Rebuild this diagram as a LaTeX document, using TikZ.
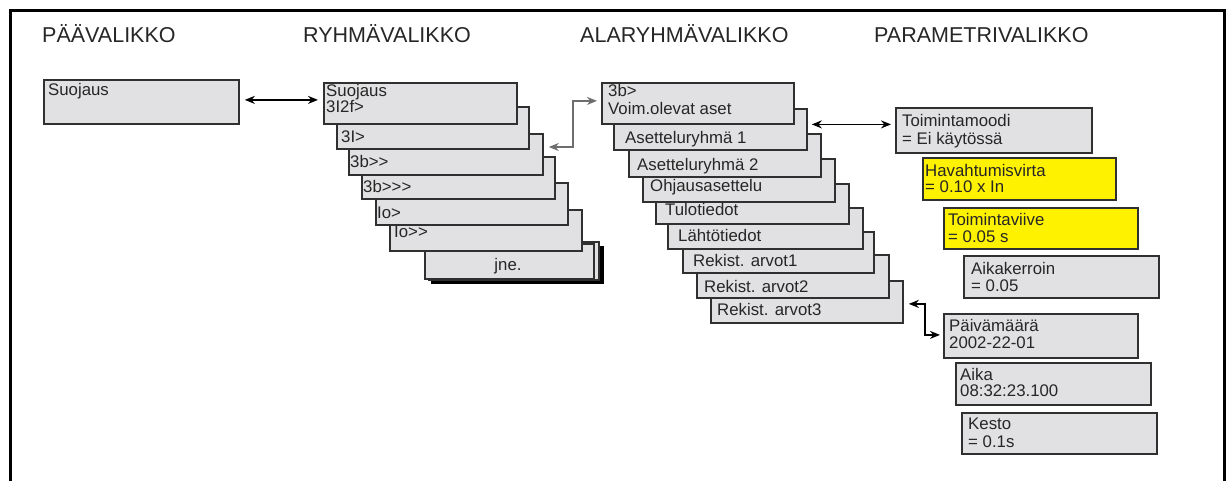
\documentclass[tikz,border=0pt]{standalone}
\usepackage{fontspec}
\setmainfont{Liberation Sans}
\usetikzlibrary{arrows.meta,calc}
\definecolor{boxfill}{HTML}{E1E1E3}
\definecolor{boxline}{HTML}{303030}
\definecolor{hiyellow}{HTML}{FFF200}
\definecolor{txtcol}{HTML}{262626}
\definecolor{linkgray}{HTML}{6E6E6E}
\tikzset{
  box/.style={draw=boxline, fill=boxfill, line width=1.8pt, rectangle, inner sep=0pt, anchor=north west},
  ybox/.style={box, fill=hiyellow},
  txt/.style={anchor=base west, inner sep=0pt, font=\fontsize{16.8}{17}\selectfont, text=txtcol},
  head/.style={anchor=base west, inner sep=0pt, font=\fontsize{21.5}{22}\selectfont, text=txtcol},
  dbl/.style={{Stealth[length=10pt,width=8pt]}-{Stealth[length=10pt,width=8pt]}, line width=1.6pt},
  frameline/.style={line width=3pt, draw=black}
}
\begin{document}
\begin{tikzpicture}[x=1pt,y=-1pt]
\useasboundingbox (0,0) rectangle (1232,481);
% outer frame (open at the bottom)
\draw[frameline] (10,481) -- (10,11) -- (1224,11) -- (1224,481);

% headers
\node[head] (h1) at (42,43) {PÄÄVALIKKO};
\node[head] (h2) at (303,43) {RYHMÄVALIKKO};
\node[head] (h3) at (580,43) {ALARYHMÄVALIKKO};
\node[head] (h4) at (874,43) {PARAMETRIVALIKKO};

% main menu
\node[box, minimum width=195pt, minimum height=44pt] (m) at (43,79) {};
\node[txt] (mt) at (48,96) {Suojaus};

% group menu stack (back to front)
\node[box, fill=black, draw=black, minimum width=171pt, minimum height=36pt] (g7c) at (431,246) {};
\node[box, minimum width=170pt, minimum height=38pt] (g7b) at (428,241) {};
\node[box, minimum width=169pt, minimum height=35pt] (g7) at (424,243) {};
\node[txt, anchor=base] (g7t) at (508,270) {jne.};
\node[box, minimum width=192pt, minimum height=41pt] (g6) at (389,209) {};
\node[txt] (g6t) at (394,238) {Io>{}>};
\node[box, minimum width=192pt, minimum height=42pt] (g5) at (375,182) {};
\node[txt] (g5t) at (377,219) {Io>};
\node[box, minimum width=193pt, minimum height=42pt] (g4) at (361,156) {};
\node[txt] (g4t) at (363,193) {3b>{}>{}>};
\node[box, minimum width=194pt, minimum height=41pt] (g3) at (348,133) {};
\node[txt] (g3t) at (350,168) {3b>{}>};
\node[box, minimum width=192pt, minimum height=42pt] (g2) at (336,106) {};
\node[txt] (g2t) at (341,143) {3I>};
\node[box, minimum width=193pt, minimum height=41pt] (g1) at (323,82) {};
\node[txt] (g1a) at (326,97) {Suojaus};
\node[txt] (g1b) at (326,113) {3I2f>};

% subgroup menu stack (back to front)
\node[box, minimum width=192pt, minimum height=42pt] (s9) at (710,280) {};
\node[txt] (s9t) at (717,316) {Rekist. arvot3};
\node[box, minimum width=192pt, minimum height=43pt] (s8) at (696,254) {};
\node[txt] (s8t) at (704,292) {Rekist. arvot2};
\node[box, minimum width=191pt, minimum height=41pt] (s7) at (682,231) {};
\node[txt] (s7t) at (693,267) {Rekist. arvot1};
\node[box, minimum width=195pt, minimum height=41pt] (s6) at (667,207) {};
\node[txt] (s6t) at (678,242) {Lähtötiedot};
\node[box, minimum width=193pt, minimum height=40pt] (s5) at (655,183) {};
\node[txt] (s5t) at (665,216) {Tulotiedot};
\node[box, minimum width=192pt, minimum height=43pt] (s4) at (642,158) {};
\node[txt] (s4t) at (650,192) {Ohjausasettelu};
\node[box, minimum width=192pt, minimum height=43pt] (s3) at (628,133) {};
\node[txt] (s3t) at (637,171) {Asetteluryhmä 2};
\node[box, minimum width=193pt, minimum height=41pt] (s2) at (613,108) {};
\node[txt] (s2t) at (625,144) {Asetteluryhmä 1};
\node[box, minimum width=192pt, minimum height=41pt] (s1) at (601,82) {};
\node[txt] (s1a) at (608,97) {3b>};
\node[txt] (s1b) at (608,115) {Voim.olevat aset};

% parameter menu
\node[box, minimum width=196pt, minimum height=45pt] (p1) at (895,107) {};
\node[txt] (p1a) at (902,127) {Toimintamoodi};
\node[txt] (p1b) at (902,145) {= Ei käytössä};
\node[ybox, minimum width=193pt, minimum height=42pt] (p2) at (922,157) {};
\node[txt] (p2a) at (925,177) {Havahtumisvirta};
\node[txt] (p2b) at (925,193) {= 0.10 x In};
\node[ybox, minimum width=194pt, minimum height=41pt] (p3) at (943,207) {};
\node[txt] (p3a) at (948,226) {Toimintaviive};
\node[txt] (p3b) at (948,243) {= 0.05 s};
\node[box, minimum width=195pt, minimum height=42pt] (p4) at (963,255) {};
\node[txt] (p4a) at (971,275) {Aikakerroin};
\node[txt] (p4b) at (971,291) {= 0.05};
\node[box, minimum width=194pt, minimum height=44pt] (p5) at (943,313) {};
\node[txt] (p5a) at (949,331) {Päivämäärä};
\node[txt] (p5b) at (949,348) {2002-22-01};
\node[box, minimum width=195pt, minimum height=42pt] (p6) at (955,362) {};
\node[txt] (p6a) at (960,380) {Aika};
\node[txt] (p6b) at (960,396) {08:32:23.100};
\node[box, minimum width=195pt, minimum height=41pt] (p7) at (961,412) {};
\node[txt] (p7a) at (968,429) {Kesto};
\node[txt] (p7b) at (968,447) {= 0.1s};

% connectors
\draw[dbl] ([shift={(5,-2)}]m.east) -- ([shift={(-5,-3.5)}]g1.west);
\draw[dbl, draw=linkgray] ([shift={(5,14)}]g3.north east) -| ([shift={(-28,-2.5)}]s1.west) -- ([shift={(-4,-2.5)}]s1.west);
\draw[dbl] ([shift={(4,-5)}]s2.east) -- ([shift={(-4,-6)}]p1.west);
\draw[dbl] ([shift={(5,2)}]s9.east) -| ([shift={(-18,-1)}]p5.west) -- ([shift={(-3,-1)}]p5.west);
\end{tikzpicture}
\end{document}
